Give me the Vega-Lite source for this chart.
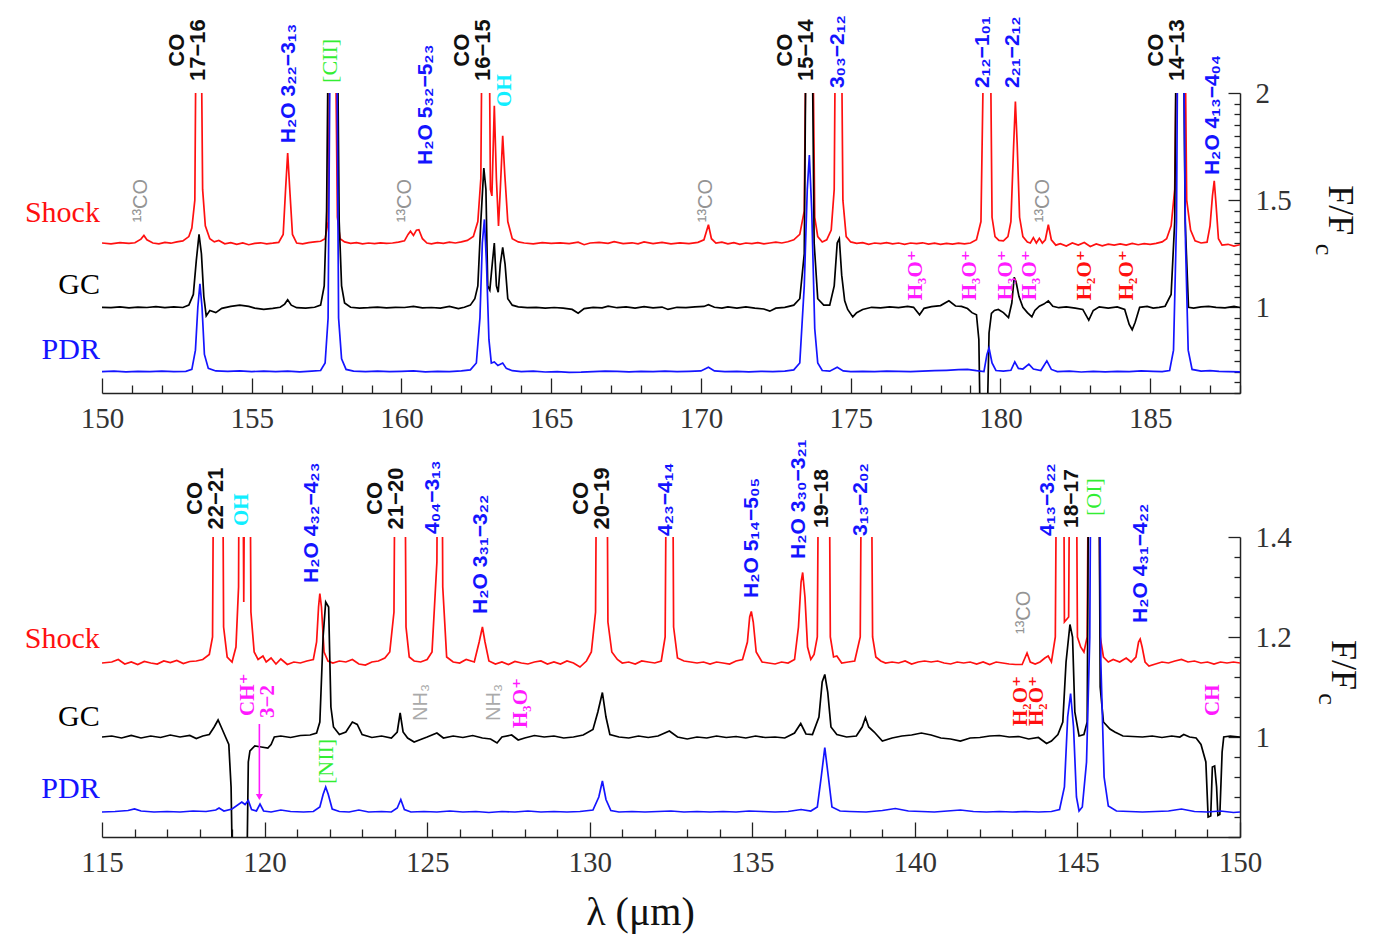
{
"$schema": "https://vega.github.io/schema/vega-lite/v6.json",
"background": "white",
"padding": {"left": 24, "top": 15, "right": 10, "bottom": 10},
"spacing": 144,
"bounds": "flush",
"config": {"view": {"stroke": null}},
"datasets": {
"ts": [
{"k":"Shock","x":150.0,"y":1.300},{"k":"Shock","x":150.3,"y":1.296},{"k":"Shock","x":150.6,"y":1.302},{"k":"Shock","x":150.9,"y":1.298},{"k":"Shock","x":151.1,"y":1.301},{"k":"Shock","x":151.3,"y":1.318},{"k":"Shock","x":151.4,"y":1.335},{"k":"Shock","x":151.5,"y":1.315},{"k":"Shock","x":151.7,"y":1.300},{"k":"Shock","x":151.9,"y":1.296},{"k":"Shock","x":152.1,"y":1.303},{"k":"Shock","x":152.3,"y":1.299},{"k":"Shock","x":152.5,"y":1.305},{"k":"Shock","x":152.7,"y":1.310},{"k":"Shock","x":152.9,"y":1.330},{"k":"Shock","x":153.0,"y":1.370},{"k":"Shock","x":153.1,"y":1.500},{"k":"Shock","x":153.15,"y":2.5},{"k":"Shock","x":153.3,"y":2.5},{"k":"Shock","x":153.36,"y":1.55},{"k":"Shock","x":153.45,"y":1.38},{"k":"Shock","x":153.6,"y":1.32},{"k":"Shock","x":153.75,"y":1.305},{"k":"Shock","x":153.9,"y":1.312},{"k":"Shock","x":154.1,"y":1.296},{"k":"Shock","x":154.3,"y":1.302},{"k":"Shock","x":154.5,"y":1.294},{"k":"Shock","x":154.7,"y":1.300},{"k":"Shock","x":154.9,"y":1.292},{"k":"Shock","x":155.1,"y":1.298},{"k":"Shock","x":155.3,"y":1.301},{"k":"Shock","x":155.5,"y":1.296},{"k":"Shock","x":155.7,"y":1.299},{"k":"Shock","x":155.9,"y":1.303},{"k":"Shock","x":156.05,"y":1.340},{"k":"Shock","x":156.13,"y":1.55},{"k":"Shock","x":156.2,"y":1.72},{"k":"Shock","x":156.27,"y":1.55},{"k":"Shock","x":156.36,"y":1.34},{"k":"Shock","x":156.5,"y":1.300},{"k":"Shock","x":156.7,"y":1.296},{"k":"Shock","x":156.9,"y":1.302},{"k":"Shock","x":157.1,"y":1.305},{"k":"Shock","x":157.3,"y":1.308},{"k":"Shock","x":157.45,"y":1.320},{"k":"Shock","x":157.55,"y":1.40},{"k":"Shock","x":157.62,"y":2.5},{"k":"Shock","x":157.78,"y":2.5},{"k":"Shock","x":157.86,"y":1.42},{"k":"Shock","x":157.95,"y":1.32},{"k":"Shock","x":158.1,"y":1.305},{"k":"Shock","x":158.3,"y":1.298},{"k":"Shock","x":158.5,"y":1.302},{"k":"Shock","x":158.7,"y":1.296},{"k":"Shock","x":158.9,"y":1.300},{"k":"Shock","x":159.1,"y":1.297},{"k":"Shock","x":159.3,"y":1.301},{"k":"Shock","x":159.5,"y":1.298},{"k":"Shock","x":159.7,"y":1.300},{"k":"Shock","x":159.9,"y":1.304},{"k":"Shock","x":160.1,"y":1.310},{"k":"Shock","x":160.22,"y":1.340},{"k":"Shock","x":160.3,"y":1.355},{"k":"Shock","x":160.4,"y":1.335},{"k":"Shock","x":160.5,"y":1.360},{"k":"Shock","x":160.58,"y":1.362},{"k":"Shock","x":160.7,"y":1.320},{"k":"Shock","x":160.85,"y":1.300},{"k":"Shock","x":161.0,"y":1.296},{"k":"Shock","x":161.2,"y":1.302},{"k":"Shock","x":161.4,"y":1.298},{"k":"Shock","x":161.6,"y":1.304},{"k":"Shock","x":161.8,"y":1.300},{"k":"Shock","x":162.0,"y":1.305},{"k":"Shock","x":162.2,"y":1.312},{"k":"Shock","x":162.4,"y":1.330},{"k":"Shock","x":162.55,"y":1.40},{"k":"Shock","x":162.65,"y":1.60},{"k":"Shock","x":162.7,"y":2.5},{"k":"Shock","x":162.92,"y":2.5},{"k":"Shock","x":162.97,"y":1.55},{"k":"Shock","x":163.02,"y":1.52},{"k":"Shock","x":163.1,"y":1.94},{"k":"Shock","x":163.17,"y":1.60},{"k":"Shock","x":163.24,"y":1.38},{"k":"Shock","x":163.3,"y":1.55},{"k":"Shock","x":163.38,"y":1.80},{"k":"Shock","x":163.45,"y":1.62},{"k":"Shock","x":163.55,"y":1.40},{"k":"Shock","x":163.7,"y":1.32},{"k":"Shock","x":163.9,"y":1.305},{"k":"Shock","x":164.1,"y":1.300},{"k":"Shock","x":164.4,"y":1.296},{"k":"Shock","x":164.7,"y":1.302},{"k":"Shock","x":165.0,"y":1.298},{"k":"Shock","x":165.3,"y":1.301},{"k":"Shock","x":165.6,"y":1.297},{"k":"Shock","x":165.9,"y":1.304},{"k":"Shock","x":166.1,"y":1.292},{"k":"Shock","x":166.3,"y":1.300},{"k":"Shock","x":166.6,"y":1.303},{"k":"Shock","x":166.9,"y":1.298},{"k":"Shock","x":167.1,"y":1.306},{"k":"Shock","x":167.4,"y":1.297},{"k":"Shock","x":167.7,"y":1.301},{"k":"Shock","x":167.9,"y":1.296},{"k":"Shock","x":168.1,"y":1.305},{"k":"Shock","x":168.4,"y":1.297},{"k":"Shock","x":168.7,"y":1.303},{"k":"Shock","x":169.0,"y":1.296},{"k":"Shock","x":169.3,"y":1.301},{"k":"Shock","x":169.6,"y":1.297},{"k":"Shock","x":169.9,"y":1.303},{"k":"Shock","x":170.1,"y":1.315},{"k":"Shock","x":170.25,"y":1.385},{"k":"Shock","x":170.35,"y":1.320},{"k":"Shock","x":170.5,"y":1.300},{"k":"Shock","x":170.7,"y":1.304},{"k":"Shock","x":170.9,"y":1.296},{"k":"Shock","x":171.1,"y":1.302},{"k":"Shock","x":171.3,"y":1.294},{"k":"Shock","x":171.5,"y":1.300},{"k":"Shock","x":171.7,"y":1.297},{"k":"Shock","x":171.9,"y":1.302},{"k":"Shock","x":172.1,"y":1.296},{"k":"Shock","x":172.3,"y":1.300},{"k":"Shock","x":172.5,"y":1.304},{"k":"Shock","x":172.7,"y":1.300},{"k":"Shock","x":172.9,"y":1.306},{"k":"Shock","x":173.1,"y":1.315},{"k":"Shock","x":173.3,"y":1.34},{"k":"Shock","x":173.45,"y":1.45},{"k":"Shock","x":173.52,"y":2.5},{"k":"Shock","x":173.72,"y":2.5},{"k":"Shock","x":173.8,"y":1.42},{"k":"Shock","x":173.9,"y":1.33},{"k":"Shock","x":174.05,"y":1.305},{"k":"Shock","x":174.2,"y":1.315},{"k":"Shock","x":174.35,"y":1.36},{"k":"Shock","x":174.45,"y":1.55},{"k":"Shock","x":174.5,"y":2.5},{"k":"Shock","x":174.68,"y":2.5},{"k":"Shock","x":174.74,"y":1.50},{"k":"Shock","x":174.85,"y":1.33},{"k":"Shock","x":175.0,"y":1.305},{"k":"Shock","x":175.2,"y":1.298},{"k":"Shock","x":175.4,"y":1.302},{"k":"Shock","x":175.6,"y":1.294},{"k":"Shock","x":175.8,"y":1.300},{"k":"Shock","x":176.0,"y":1.297},{"k":"Shock","x":176.2,"y":1.302},{"k":"Shock","x":176.4,"y":1.296},{"k":"Shock","x":176.6,"y":1.300},{"k":"Shock","x":176.8,"y":1.294},{"k":"Shock","x":177.0,"y":1.300},{"k":"Shock","x":177.2,"y":1.297},{"k":"Shock","x":177.4,"y":1.301},{"k":"Shock","x":177.6,"y":1.295},{"k":"Shock","x":177.8,"y":1.299},{"k":"Shock","x":178.0,"y":1.294},{"k":"Shock","x":178.2,"y":1.298},{"k":"Shock","x":178.4,"y":1.295},{"k":"Shock","x":178.6,"y":1.299},{"k":"Shock","x":178.8,"y":1.296},{"k":"Shock","x":179.0,"y":1.300},{"k":"Shock","x":179.2,"y":1.315},{"k":"Shock","x":179.35,"y":1.40},{"k":"Shock","x":179.47,"y":2.5},{"k":"Shock","x":179.65,"y":2.5},{"k":"Shock","x":179.72,"y":1.42},{"k":"Shock","x":179.82,"y":1.33},{"k":"Shock","x":179.95,"y":1.312},{"k":"Shock","x":180.1,"y":1.310},{"k":"Shock","x":180.25,"y":1.33},{"k":"Shock","x":180.35,"y":1.40},{"k":"Shock","x":180.44,"y":1.75},{"k":"Shock","x":180.5,"y":1.96},{"k":"Shock","x":180.56,"y":1.76},{"k":"Shock","x":180.64,"y":1.42},{"k":"Shock","x":180.75,"y":1.33},{"k":"Shock","x":180.9,"y":1.305},{"k":"Shock","x":181.0,"y":1.300},{"k":"Shock","x":181.1,"y":1.325},{"k":"Shock","x":181.2,"y":1.300},{"k":"Shock","x":181.3,"y":1.322},{"k":"Shock","x":181.4,"y":1.300},{"k":"Shock","x":181.5,"y":1.315},{"k":"Shock","x":181.6,"y":1.385},{"k":"Shock","x":181.7,"y":1.315},{"k":"Shock","x":181.85,"y":1.290},{"k":"Shock","x":182.0,"y":1.297},{"k":"Shock","x":182.2,"y":1.286},{"k":"Shock","x":182.4,"y":1.300},{"k":"Shock","x":182.6,"y":1.290},{"k":"Shock","x":182.8,"y":1.302},{"k":"Shock","x":183.0,"y":1.284},{"k":"Shock","x":183.2,"y":1.296},{"k":"Shock","x":183.4,"y":1.287},{"k":"Shock","x":183.6,"y":1.295},{"k":"Shock","x":183.8,"y":1.290},{"k":"Shock","x":184.0,"y":1.296},{"k":"Shock","x":184.2,"y":1.290},{"k":"Shock","x":184.4,"y":1.298},{"k":"Shock","x":184.6,"y":1.292},{"k":"Shock","x":184.8,"y":1.297},{"k":"Shock","x":185.0,"y":1.294},{"k":"Shock","x":185.2,"y":1.298},{"k":"Shock","x":185.4,"y":1.305},{"k":"Shock","x":185.55,"y":1.32},{"k":"Shock","x":185.7,"y":1.38},{"k":"Shock","x":185.82,"y":1.55},{"k":"Shock","x":185.9,"y":2.5},{"k":"Shock","x":186.15,"y":2.5},{"k":"Shock","x":186.22,"y":1.50},{"k":"Shock","x":186.35,"y":1.36},{"k":"Shock","x":186.5,"y":1.31},{"k":"Shock","x":186.7,"y":1.300},{"k":"Shock","x":186.9,"y":1.304},{"k":"Shock","x":187.0,"y":1.38},{"k":"Shock","x":187.08,"y":1.52},{"k":"Shock","x":187.14,"y":1.59},{"k":"Shock","x":187.2,"y":1.48},{"k":"Shock","x":187.28,"y":1.32},{"k":"Shock","x":187.4,"y":1.290},{"k":"Shock","x":187.6,"y":1.294},{"k":"Shock","x":187.8,"y":1.286},{"k":"Shock","x":188.0,"y":1.292},
{"k":"GC","x":150.0,"y":1.000},{"k":"GC","x":150.3,"y":0.998},{"k":"GC","x":150.6,"y":1.002},{"k":"GC","x":150.9,"y":0.997},{"k":"GC","x":151.2,"y":1.001},{"k":"GC","x":151.5,"y":0.999},{"k":"GC","x":151.8,"y":1.003},{"k":"GC","x":152.1,"y":0.998},{"k":"GC","x":152.4,"y":1.002},{"k":"GC","x":152.7,"y":0.999},{"k":"GC","x":152.9,"y":1.010},{"k":"GC","x":153.05,"y":1.06},{"k":"GC","x":153.15,"y":1.22},{"k":"GC","x":153.24,"y":1.34},{"k":"GC","x":153.32,"y":1.25},{"k":"GC","x":153.4,"y":1.05},{"k":"GC","x":153.48,"y":0.96},{"k":"GC","x":153.6,"y":0.985},{"k":"GC","x":153.8,"y":0.975},{"k":"GC","x":154.0,"y":0.995},{"k":"GC","x":154.3,"y":1.004},{"k":"GC","x":154.6,"y":1.010},{"k":"GC","x":154.9,"y":1.004},{"k":"GC","x":155.1,"y":0.996},{"k":"GC","x":155.4,"y":0.990},{"k":"GC","x":155.7,"y":0.995},{"k":"GC","x":155.95,"y":1.000},{"k":"GC","x":156.1,"y":1.015},{"k":"GC","x":156.2,"y":1.035},{"k":"GC","x":156.32,"y":1.010},{"k":"GC","x":156.5,"y":0.998},{"k":"GC","x":156.8,"y":0.996},{"k":"GC","x":157.1,"y":1.000},{"k":"GC","x":157.3,"y":1.010},{"k":"GC","x":157.42,"y":1.10},{"k":"GC","x":157.5,"y":1.45},{"k":"GC","x":157.57,"y":2.5},{"k":"GC","x":157.85,"y":2.5},{"k":"GC","x":157.92,"y":1.40},{"k":"GC","x":158.0,"y":1.10},{"k":"GC","x":158.1,"y":1.02},{"k":"GC","x":158.3,"y":1.000},{"k":"GC","x":158.6,"y":0.996},{"k":"GC","x":158.9,"y":0.998},{"k":"GC","x":159.2,"y":1.001},{"k":"GC","x":159.5,"y":0.997},{"k":"GC","x":159.8,"y":1.000},{"k":"GC","x":160.1,"y":0.999},{"k":"GC","x":160.4,"y":1.004},{"k":"GC","x":160.7,"y":0.997},{"k":"GC","x":161.0,"y":0.999},{"k":"GC","x":161.3,"y":0.996},{"k":"GC","x":161.6,"y":1.004},{"k":"GC","x":161.9,"y":0.994},{"k":"GC","x":162.1,"y":1.000},{"k":"GC","x":162.3,"y":1.010},{"k":"GC","x":162.45,"y":1.04},{"k":"GC","x":162.55,"y":1.10},{"k":"GC","x":162.65,"y":1.40},{"k":"GC","x":162.75,"y":1.65},{"k":"GC","x":162.82,"y":1.55},{"k":"GC","x":162.88,"y":1.10},{"k":"GC","x":162.95,"y":1.08},{"k":"GC","x":163.03,"y":1.20},{"k":"GC","x":163.1,"y":1.30},{"k":"GC","x":163.17,"y":1.10},{"k":"GC","x":163.23,"y":1.07},{"k":"GC","x":163.3,"y":1.20},{"k":"GC","x":163.38,"y":1.28},{"k":"GC","x":163.46,"y":1.20},{"k":"GC","x":163.55,"y":1.04},{"k":"GC","x":163.7,"y":1.010},{"k":"GC","x":163.9,"y":1.002},{"k":"GC","x":164.2,"y":0.998},{"k":"GC","x":164.5,"y":1.000},{"k":"GC","x":164.8,"y":0.996},{"k":"GC","x":165.1,"y":0.999},{"k":"GC","x":165.4,"y":0.996},{"k":"GC","x":165.7,"y":0.990},{"k":"GC","x":165.9,"y":0.972},{"k":"GC","x":166.1,"y":0.994},{"k":"GC","x":166.4,"y":1.000},{"k":"GC","x":166.7,"y":0.997},{"k":"GC","x":166.9,"y":1.005},{"k":"GC","x":167.2,"y":0.998},{"k":"GC","x":167.5,"y":1.002},{"k":"GC","x":167.8,"y":0.996},{"k":"GC","x":168.1,"y":1.003},{"k":"GC","x":168.4,"y":0.997},{"k":"GC","x":168.7,"y":1.001},{"k":"GC","x":168.9,"y":0.990},{"k":"GC","x":169.2,"y":1.000},{"k":"GC","x":169.5,"y":0.998},{"k":"GC","x":169.8,"y":1.002},{"k":"GC","x":170.1,"y":1.004},{"k":"GC","x":170.25,"y":1.012},{"k":"GC","x":170.45,"y":1.000},{"k":"GC","x":170.7,"y":0.996},{"k":"GC","x":170.9,"y":1.002},{"k":"GC","x":171.2,"y":0.996},{"k":"GC","x":171.5,"y":1.002},{"k":"GC","x":171.8,"y":0.996},{"k":"GC","x":172.1,"y":0.992},{"k":"GC","x":172.3,"y":0.982},{"k":"GC","x":172.5,"y":0.996},{"k":"GC","x":172.8,"y":1.000},{"k":"GC","x":173.1,"y":1.010},{"k":"GC","x":173.3,"y":1.04},{"k":"GC","x":173.45,"y":1.25},{"k":"GC","x":173.52,"y":2.5},{"k":"GC","x":173.7,"y":2.5},{"k":"GC","x":173.78,"y":1.30},{"k":"GC","x":173.9,"y":1.04},{"k":"GC","x":174.1,"y":1.010},{"k":"GC","x":174.3,"y":1.010},{"k":"GC","x":174.45,"y":1.10},{"k":"GC","x":174.55,"y":1.30},{"k":"GC","x":174.62,"y":1.32},{"k":"GC","x":174.7,"y":1.15},{"k":"GC","x":174.8,"y":1.03},{"k":"GC","x":174.9,"y":0.99},{"k":"GC","x":175.07,"y":0.955},{"k":"GC","x":175.2,"y":0.975},{"k":"GC","x":175.4,"y":0.990},{"k":"GC","x":175.7,"y":1.000},{"k":"GC","x":176.0,"y":0.997},{"k":"GC","x":176.3,"y":1.002},{"k":"GC","x":176.6,"y":0.998},{"k":"GC","x":176.9,"y":1.004},{"k":"GC","x":177.1,"y":1.000},{"k":"GC","x":177.3,"y":0.965},{"k":"GC","x":177.45,"y":0.995},{"k":"GC","x":177.7,"y":1.003},{"k":"GC","x":178.0,"y":1.008},{"k":"GC","x":178.28,"y":1.030},{"k":"GC","x":178.5,"y":1.006},{"k":"GC","x":178.7,"y":1.004},{"k":"GC","x":178.9,"y":0.994},{"k":"GC","x":179.05,"y":0.975},{"k":"GC","x":179.2,"y":0.965},{"k":"GC","x":179.28,"y":0.85},{"k":"GC","x":179.33,"y":0.4},{"k":"GC","x":179.55,"y":0.4},{"k":"GC","x":179.62,"y":0.88},{"k":"GC","x":179.7,"y":0.972},{"k":"GC","x":179.8,"y":0.985},{"k":"GC","x":179.93,"y":0.99},{"k":"GC","x":180.1,"y":0.975},{"k":"GC","x":180.27,"y":0.952},{"k":"GC","x":180.38,"y":1.02},{"k":"GC","x":180.46,"y":1.14},{"k":"GC","x":180.52,"y":1.12},{"k":"GC","x":180.62,"y":1.05},{"k":"GC","x":180.75,"y":1.00},{"k":"GC","x":180.9,"y":0.975},{"k":"GC","x":181.05,"y":0.955},{"k":"GC","x":181.15,"y":0.985},{"k":"GC","x":181.3,"y":1.005},{"k":"GC","x":181.45,"y":1.015},{"k":"GC","x":181.6,"y":1.030},{"k":"GC","x":181.75,"y":1.005},{"k":"GC","x":181.95,"y":0.998},{"k":"GC","x":182.2,"y":1.002},{"k":"GC","x":182.5,"y":0.996},{"k":"GC","x":182.75,"y":0.990},{"k":"GC","x":182.95,"y":0.940},{"k":"GC","x":183.1,"y":0.985},{"k":"GC","x":183.3,"y":1.002},{"k":"GC","x":183.6,"y":0.996},{"k":"GC","x":183.9,"y":1.002},{"k":"GC","x":184.15,"y":0.990},{"k":"GC","x":184.3,"y":0.920},{"k":"GC","x":184.4,"y":0.895},{"k":"GC","x":184.5,"y":0.930},{"k":"GC","x":184.65,"y":1.00},{"k":"GC","x":184.9,"y":1.004},{"k":"GC","x":185.1,"y":0.996},{"k":"GC","x":185.3,"y":1.000},{"k":"GC","x":185.5,"y":1.005},{"k":"GC","x":185.7,"y":1.06},{"k":"GC","x":185.82,"y":1.40},{"k":"GC","x":185.88,"y":2.5},{"k":"GC","x":186.1,"y":2.5},{"k":"GC","x":186.17,"y":1.40},{"k":"GC","x":186.28,"y":1.00},{"k":"GC","x":186.45,"y":0.996},{"k":"GC","x":186.7,"y":1.002},{"k":"GC","x":186.95,"y":1.004},{"k":"GC","x":187.2,"y":1.000},{"k":"GC","x":187.5,"y":0.997},{"k":"GC","x":187.8,"y":1.004},{"k":"GC","x":188.0,"y":0.999},
{"k":"PDR","x":150.0,"y":0.700},{"k":"PDR","x":150.4,"y":0.702},{"k":"PDR","x":150.8,"y":0.699},{"k":"PDR","x":151.2,"y":0.701},{"k":"PDR","x":151.6,"y":0.700},{"k":"PDR","x":152.0,"y":0.702},{"k":"PDR","x":152.4,"y":0.700},{"k":"PDR","x":152.8,"y":0.701},{"k":"PDR","x":153.0,"y":0.710},{"k":"PDR","x":153.12,"y":0.80},{"k":"PDR","x":153.2,"y":1.00},{"k":"PDR","x":153.27,"y":1.11},{"k":"PDR","x":153.34,"y":1.00},{"k":"PDR","x":153.42,"y":0.78},{"k":"PDR","x":153.55,"y":0.715},{"k":"PDR","x":153.8,"y":0.703},{"k":"PDR","x":154.2,"y":0.701},{"k":"PDR","x":154.6,"y":0.703},{"k":"PDR","x":155.0,"y":0.700},{"k":"PDR","x":155.4,"y":0.702},{"k":"PDR","x":155.8,"y":0.700},{"k":"PDR","x":156.2,"y":0.702},{"k":"PDR","x":156.6,"y":0.699},{"k":"PDR","x":157.0,"y":0.702},{"k":"PDR","x":157.3,"y":0.705},{"k":"PDR","x":157.45,"y":0.74},{"k":"PDR","x":157.55,"y":0.95},{"k":"PDR","x":157.63,"y":2.5},{"k":"PDR","x":157.83,"y":2.5},{"k":"PDR","x":157.9,"y":0.95},{"k":"PDR","x":158.0,"y":0.76},{"k":"PDR","x":158.15,"y":0.71},{"k":"PDR","x":158.4,"y":0.702},{"k":"PDR","x":158.8,"y":0.700},{"k":"PDR","x":159.2,"y":0.702},{"k":"PDR","x":159.6,"y":0.700},{"k":"PDR","x":160.0,"y":0.701},{"k":"PDR","x":160.4,"y":0.703},{"k":"PDR","x":160.8,"y":0.699},{"k":"PDR","x":161.2,"y":0.701},{"k":"PDR","x":161.6,"y":0.700},{"k":"PDR","x":162.0,"y":0.703},{"k":"PDR","x":162.3,"y":0.708},{"k":"PDR","x":162.5,"y":0.74},{"k":"PDR","x":162.62,"y":0.95},{"k":"PDR","x":162.7,"y":1.30},{"k":"PDR","x":162.77,"y":1.41},{"k":"PDR","x":162.84,"y":1.20},{"k":"PDR","x":162.92,"y":0.85},{"k":"PDR","x":163.0,"y":0.74},{"k":"PDR","x":163.1,"y":0.745},{"k":"PDR","x":163.22,"y":0.728},{"k":"PDR","x":163.38,"y":0.74},{"k":"PDR","x":163.5,"y":0.715},{"k":"PDR","x":163.7,"y":0.704},{"k":"PDR","x":164.0,"y":0.700},{"k":"PDR","x":164.4,"y":0.702},{"k":"PDR","x":164.8,"y":0.698},{"k":"PDR","x":165.2,"y":0.700},{"k":"PDR","x":165.6,"y":0.696},{"k":"PDR","x":166.0,"y":0.697},{"k":"PDR","x":166.4,"y":0.700},{"k":"PDR","x":166.8,"y":0.702},{"k":"PDR","x":167.2,"y":0.701},{"k":"PDR","x":167.6,"y":0.699},{"k":"PDR","x":168.0,"y":0.701},{"k":"PDR","x":168.4,"y":0.700},{"k":"PDR","x":168.8,"y":0.702},{"k":"PDR","x":169.2,"y":0.700},{"k":"PDR","x":169.6,"y":0.701},{"k":"PDR","x":170.0,"y":0.703},{"k":"PDR","x":170.25,"y":0.72},{"k":"PDR","x":170.45,"y":0.703},{"k":"PDR","x":170.8,"y":0.700},{"k":"PDR","x":171.2,"y":0.701},{"k":"PDR","x":171.6,"y":0.699},{"k":"PDR","x":172.0,"y":0.701},{"k":"PDR","x":172.4,"y":0.700},{"k":"PDR","x":172.8,"y":0.702},{"k":"PDR","x":173.1,"y":0.708},{"k":"PDR","x":173.3,"y":0.74},{"k":"PDR","x":173.45,"y":1.10},{"k":"PDR","x":173.55,"y":1.55},{"k":"PDR","x":173.62,"y":1.71},{"k":"PDR","x":173.7,"y":1.45},{"k":"PDR","x":173.8,"y":0.90},{"k":"PDR","x":173.9,"y":0.74},{"k":"PDR","x":174.05,"y":0.705},{"k":"PDR","x":174.3,"y":0.702},{"k":"PDR","x":174.55,"y":0.72},{"k":"PDR","x":174.75,"y":0.703},{"k":"PDR","x":175.0,"y":0.700},{"k":"PDR","x":175.4,"y":0.701},{"k":"PDR","x":175.8,"y":0.700},{"k":"PDR","x":176.2,"y":0.702},{"k":"PDR","x":176.6,"y":0.701},{"k":"PDR","x":177.0,"y":0.700},{"k":"PDR","x":177.4,"y":0.702},{"k":"PDR","x":177.8,"y":0.704},{"k":"PDR","x":178.2,"y":0.706},{"k":"PDR","x":178.6,"y":0.709},{"k":"PDR","x":178.9,"y":0.710},{"k":"PDR","x":179.2,"y":0.704},{"k":"PDR","x":179.45,"y":0.70},{"k":"PDR","x":179.55,"y":0.78},{"k":"PDR","x":179.62,"y":0.81},{"k":"PDR","x":179.72,"y":0.74},{"k":"PDR","x":179.85,"y":0.705},{"k":"PDR","x":180.1,"y":0.702},{"k":"PDR","x":180.35,"y":0.706},{"k":"PDR","x":180.48,"y":0.745},{"k":"PDR","x":180.6,"y":0.715},{"k":"PDR","x":180.75,"y":0.712},{"k":"PDR","x":180.95,"y":0.735},{"k":"PDR","x":181.1,"y":0.712},{"k":"PDR","x":181.35,"y":0.705},{"k":"PDR","x":181.55,"y":0.75},{"k":"PDR","x":181.7,"y":0.71},{"k":"PDR","x":181.9,"y":0.700},{"k":"PDR","x":182.3,"y":0.702},{"k":"PDR","x":182.7,"y":0.698},{"k":"PDR","x":183.1,"y":0.701},{"k":"PDR","x":183.5,"y":0.699},{"k":"PDR","x":183.9,"y":0.701},{"k":"PDR","x":184.3,"y":0.700},{"k":"PDR","x":184.7,"y":0.703},{"k":"PDR","x":185.1,"y":0.701},{"k":"PDR","x":185.4,"y":0.700},{"k":"PDR","x":185.65,"y":0.705},{"k":"PDR","x":185.78,"y":0.80},{"k":"PDR","x":185.88,"y":1.40},{"k":"PDR","x":185.93,"y":2.5},{"k":"PDR","x":186.1,"y":2.5},{"k":"PDR","x":186.18,"y":1.30},{"k":"PDR","x":186.27,"y":0.80},{"k":"PDR","x":186.4,"y":0.71},{"k":"PDR","x":186.7,"y":0.702},{"k":"PDR","x":187.0,"y":0.704},{"k":"PDR","x":187.3,"y":0.701},{"k":"PDR","x":187.6,"y":0.700},{"k":"PDR","x":188.0,"y":0.699}
],
"tl": [
{"x":151.30,"y":1.397,"t":"¹³CO","k":"13CO"},
{"x":160.13,"y":1.397,"t":"¹³CO","k":"13CO"},
{"x":170.17,"y":1.397,"t":"¹³CO","k":"13CO"},
{"x":181.43,"y":1.397,"t":"¹³CO","k":"13CO"},
{"x":152.50,"y":2.20,"t":"CO\n17−16","k":"CO"},
{"x":162.02,"y":2.20,"t":"CO\n16−15","k":"CO"},
{"x":172.82,"y":2.20,"t":"CO\n15−14","k":"CO"},
{"x":185.18,"y":2.20,"t":"CO\n14−13","k":"CO"},
{"x":156.23,"y":1.766,"t":"H₂O 3₂₂−3₁₃","k":"H2O"},
{"x":160.83,"y":1.664,"t":"H₂O 5₃₂−5₂₃","k":"H2O"},
{"x":174.57,"y":2.023,"t":"3₀₃−2₁₂","k":"H2O"},
{"x":179.43,"y":2.023,"t":"2₁₂−1₀₁","k":"H2O"},
{"x":180.43,"y":2.023,"t":"2₂₁−2₁₂","k":"H2O"},
{"x":187.10,"y":1.617,"t":"H₂O 4₁₃−4₀₄","k":"H2O"},
{"x":157.63,"y":2.047,"t":"[CII]","k":"CII"},
{"x":163.47,"y":1.935,"t":"OH","k":"OH"},
{"x":177.17,"y":1.033,"t":"H₃O⁺","k":"H3O+"},
{"x":178.97,"y":1.033,"t":"H₃O⁺","k":"H3O+"},
{"x":180.17,"y":1.033,"t":"H₃O⁺","k":"H3O+"},
{"x":181.00,"y":1.033,"t":"H₃O⁺","k":"H3O+"},
{"x":182.83,"y":1.033,"t":"H₂O⁺","k":"H2O+"},
{"x":184.23,"y":1.033,"t":"H₂O⁺","k":"H2O+"},
{"x":149.93,"y":1.44,"t":"Shock","k":"Shock"},
{"x":149.93,"y":1.103,"t":"GC","k":"GC"},
{"x":149.93,"y":0.80,"t":"PDR","k":"PDR"},
{"x":191.34,"y":1.453,"t":"F/F","k":"F"},
{"x":190.82,"y":1.27,"t":"c","k":"Fc"}
],
"bs": [
{"k":"Shock","x":115.0,"y":1.148},{"k":"Shock","x":115.3,"y":1.150},{"k":"Shock","x":115.5,"y":1.155},{"k":"Shock","x":115.7,"y":1.146},{"k":"Shock","x":115.9,"y":1.150},{"k":"Shock","x":116.1,"y":1.145},{"k":"Shock","x":116.3,"y":1.151},{"k":"Shock","x":116.5,"y":1.148},{"k":"Shock","x":116.7,"y":1.146},{"k":"Shock","x":116.9,"y":1.152},{"k":"Shock","x":117.1,"y":1.149},{"k":"Shock","x":117.3,"y":1.153},{"k":"Shock","x":117.5,"y":1.147},{"k":"Shock","x":117.7,"y":1.151},{"k":"Shock","x":117.9,"y":1.152},{"k":"Shock","x":118.1,"y":1.155},{"k":"Shock","x":118.3,"y":1.165},{"k":"Shock","x":118.4,"y":1.20},{"k":"Shock","x":118.47,"y":2.0},{"k":"Shock","x":118.68,"y":2.0},{"k":"Shock","x":118.74,"y":1.22},{"k":"Shock","x":118.85,"y":1.16},{"k":"Shock","x":119.0,"y":1.15},{"k":"Shock","x":119.12,"y":1.18},{"k":"Shock","x":119.2,"y":1.30},{"k":"Shock","x":119.24,"y":2.0},{"k":"Shock","x":119.3,"y":2.0},{"k":"Shock","x":119.36,"y":1.27},{"k":"Shock","x":119.42,"y":2.0},{"k":"Shock","x":119.52,"y":2.0},{"k":"Shock","x":119.58,"y":1.25},{"k":"Shock","x":119.68,"y":1.17},{"k":"Shock","x":119.8,"y":1.155},{"k":"Shock","x":119.95,"y":1.162},{"k":"Shock","x":120.05,"y":1.150},{"k":"Shock","x":120.2,"y":1.158},{"k":"Shock","x":120.35,"y":1.146},{"k":"Shock","x":120.5,"y":1.156},{"k":"Shock","x":120.7,"y":1.145},{"k":"Shock","x":120.9,"y":1.150},{"k":"Shock","x":121.1,"y":1.148},{"k":"Shock","x":121.3,"y":1.152},{"k":"Shock","x":121.5,"y":1.155},{"k":"Shock","x":121.6,"y":1.19},{"k":"Shock","x":121.66,"y":1.26},{"k":"Shock","x":121.7,"y":1.287},{"k":"Shock","x":121.75,"y":1.26},{"k":"Shock","x":121.83,"y":1.17},{"k":"Shock","x":121.95,"y":1.152},{"k":"Shock","x":122.1,"y":1.148},{"k":"Shock","x":122.3,"y":1.152},{"k":"Shock","x":122.5,"y":1.150},{"k":"Shock","x":122.7,"y":1.155},{"k":"Shock","x":122.9,"y":1.146},{"k":"Shock","x":123.1,"y":1.144},{"k":"Shock","x":123.3,"y":1.150},{"k":"Shock","x":123.5,"y":1.152},{"k":"Shock","x":123.7,"y":1.158},{"k":"Shock","x":123.85,"y":1.17},{"k":"Shock","x":123.98,"y":1.25},{"k":"Shock","x":124.05,"y":2.0},{"k":"Shock","x":124.28,"y":2.0},{"k":"Shock","x":124.35,"y":1.22},{"k":"Shock","x":124.45,"y":1.16},{"k":"Shock","x":124.6,"y":1.152},{"k":"Shock","x":124.8,"y":1.150},{"k":"Shock","x":125.0,"y":1.155},{"k":"Shock","x":125.15,"y":1.17},{"k":"Shock","x":125.3,"y":1.35},{"k":"Shock","x":125.35,"y":2.0},{"k":"Shock","x":125.43,"y":2.0},{"k":"Shock","x":125.48,"y":1.30},{"k":"Shock","x":125.6,"y":1.16},{"k":"Shock","x":125.8,"y":1.150},{"k":"Shock","x":126.0,"y":1.148},{"k":"Shock","x":126.2,"y":1.155},{"k":"Shock","x":126.45,"y":1.150},{"k":"Shock","x":126.6,"y":1.19},{"k":"Shock","x":126.7,"y":1.22},{"k":"Shock","x":126.78,"y":1.19},{"k":"Shock","x":126.9,"y":1.152},{"k":"Shock","x":127.1,"y":1.146},{"k":"Shock","x":127.3,"y":1.150},{"k":"Shock","x":127.5,"y":1.145},{"k":"Shock","x":127.7,"y":1.151},{"k":"Shock","x":127.9,"y":1.148},{"k":"Shock","x":128.1,"y":1.146},{"k":"Shock","x":128.3,"y":1.150},{"k":"Shock","x":128.5,"y":1.152},{"k":"Shock","x":128.7,"y":1.146},{"k":"Shock","x":128.9,"y":1.150},{"k":"Shock","x":129.1,"y":1.146},{"k":"Shock","x":129.3,"y":1.152},{"k":"Shock","x":129.5,"y":1.148},{"k":"Shock","x":129.7,"y":1.140},{"k":"Shock","x":129.9,"y":1.152},{"k":"Shock","x":130.05,"y":1.17},{"k":"Shock","x":130.18,"y":1.25},{"k":"Shock","x":130.25,"y":2.0},{"k":"Shock","x":130.5,"y":2.0},{"k":"Shock","x":130.56,"y":1.23},{"k":"Shock","x":130.68,"y":1.17},{"k":"Shock","x":130.85,"y":1.155},{"k":"Shock","x":131.0,"y":1.148},{"k":"Shock","x":131.2,"y":1.150},{"k":"Shock","x":131.4,"y":1.146},{"k":"Shock","x":131.6,"y":1.152},{"k":"Shock","x":131.8,"y":1.150},{"k":"Shock","x":132.0,"y":1.148},{"k":"Shock","x":132.2,"y":1.152},{"k":"Shock","x":132.32,"y":1.20},{"k":"Shock","x":132.4,"y":2.0},{"k":"Shock","x":132.52,"y":2.0},{"k":"Shock","x":132.58,"y":1.22},{"k":"Shock","x":132.7,"y":1.158},{"k":"Shock","x":132.9,"y":1.152},{"k":"Shock","x":133.1,"y":1.150},{"k":"Shock","x":133.3,"y":1.148},{"k":"Shock","x":133.5,"y":1.150},{"k":"Shock","x":133.7,"y":1.146},{"k":"Shock","x":133.9,"y":1.150},{"k":"Shock","x":134.1,"y":1.148},{"k":"Shock","x":134.3,"y":1.146},{"k":"Shock","x":134.5,"y":1.152},{"k":"Shock","x":134.7,"y":1.155},{"k":"Shock","x":134.85,"y":1.19},{"k":"Shock","x":134.92,"y":1.24},{"k":"Shock","x":134.97,"y":1.251},{"k":"Shock","x":135.03,"y":1.23},{"k":"Shock","x":135.12,"y":1.17},{"k":"Shock","x":135.3,"y":1.150},{"k":"Shock","x":135.5,"y":1.148},{"k":"Shock","x":135.7,"y":1.146},{"k":"Shock","x":135.9,"y":1.150},{"k":"Shock","x":136.1,"y":1.148},{"k":"Shock","x":136.3,"y":1.155},{"k":"Shock","x":136.42,"y":1.22},{"k":"Shock","x":136.5,"y":1.31},{"k":"Shock","x":136.55,"y":1.329},{"k":"Shock","x":136.62,"y":1.28},{"k":"Shock","x":136.7,"y":1.18},{"k":"Shock","x":136.8,"y":1.155},{"k":"Shock","x":136.9,"y":1.165},{"k":"Shock","x":137.0,"y":1.20},{"k":"Shock","x":137.08,"y":2.0},{"k":"Shock","x":137.33,"y":2.0},{"k":"Shock","x":137.4,"y":1.20},{"k":"Shock","x":137.5,"y":1.16},{"k":"Shock","x":137.6,"y":1.162},{"k":"Shock","x":137.75,"y":1.148},{"k":"Shock","x":137.95,"y":1.150},{"k":"Shock","x":138.15,"y":1.152},{"k":"Shock","x":138.32,"y":1.20},{"k":"Shock","x":138.4,"y":2.0},{"k":"Shock","x":138.62,"y":2.0},{"k":"Shock","x":138.7,"y":1.20},{"k":"Shock","x":138.8,"y":1.16},{"k":"Shock","x":138.95,"y":1.152},{"k":"Shock","x":139.1,"y":1.148},{"k":"Shock","x":139.3,"y":1.150},{"k":"Shock","x":139.5,"y":1.148},{"k":"Shock","x":139.7,"y":1.152},{"k":"Shock","x":139.9,"y":1.146},{"k":"Shock","x":140.1,"y":1.150},{"k":"Shock","x":140.3,"y":1.152},{"k":"Shock","x":140.5,"y":1.150},{"k":"Shock","x":140.7,"y":1.152},{"k":"Shock","x":140.9,"y":1.148},{"k":"Shock","x":141.1,"y":1.146},{"k":"Shock","x":141.3,"y":1.150},{"k":"Shock","x":141.5,"y":1.148},{"k":"Shock","x":141.7,"y":1.150},{"k":"Shock","x":141.9,"y":1.146},{"k":"Shock","x":142.1,"y":1.150},{"k":"Shock","x":142.3,"y":1.145},{"k":"Shock","x":142.5,"y":1.150},{"k":"Shock","x":142.7,"y":1.148},{"k":"Shock","x":142.9,"y":1.146},{"k":"Shock","x":143.1,"y":1.145},{"k":"Shock","x":143.3,"y":1.145},{"k":"Shock","x":143.45,"y":1.168},{"k":"Shock","x":143.55,"y":1.150},{"k":"Shock","x":143.7,"y":1.146},{"k":"Shock","x":143.85,"y":1.150},{"k":"Shock","x":144.0,"y":1.158},{"k":"Shock","x":144.1,"y":1.162},{"k":"Shock","x":144.2,"y":1.150},{"k":"Shock","x":144.32,"y":1.20},{"k":"Shock","x":144.4,"y":2.0},{"k":"Shock","x":144.55,"y":2.0},{"k":"Shock","x":144.6,"y":1.23},{"k":"Shock","x":144.73,"y":1.24},{"k":"Shock","x":144.8,"y":2.0},{"k":"Shock","x":144.93,"y":2.0},{"k":"Shock","x":145.0,"y":1.20},{"k":"Shock","x":145.1,"y":1.18},{"k":"Shock","x":145.2,"y":1.17},{"k":"Shock","x":145.3,"y":1.20},{"k":"Shock","x":145.38,"y":2.0},{"k":"Shock","x":145.62,"y":2.0},{"k":"Shock","x":145.7,"y":1.20},{"k":"Shock","x":145.8,"y":1.16},{"k":"Shock","x":145.95,"y":1.150},{"k":"Shock","x":146.1,"y":1.155},{"k":"Shock","x":146.3,"y":1.150},{"k":"Shock","x":146.5,"y":1.158},{"k":"Shock","x":146.65,"y":1.150},{"k":"Shock","x":146.8,"y":1.16},{"k":"Shock","x":146.88,"y":1.19},{"k":"Shock","x":146.93,"y":1.196},{"k":"Shock","x":146.99,"y":1.18},{"k":"Shock","x":147.08,"y":1.150},{"k":"Shock","x":147.2,"y":1.142},{"k":"Shock","x":147.4,"y":1.146},{"k":"Shock","x":147.6,"y":1.150},{"k":"Shock","x":147.8,"y":1.148},{"k":"Shock","x":148.0,"y":1.152},{"k":"Shock","x":148.2,"y":1.155},{"k":"Shock","x":148.4,"y":1.150},{"k":"Shock","x":148.6,"y":1.152},{"k":"Shock","x":148.8,"y":1.148},{"k":"Shock","x":149.0,"y":1.150},{"k":"Shock","x":149.2,"y":1.146},{"k":"Shock","x":149.4,"y":1.150},{"k":"Shock","x":149.6,"y":1.148},{"k":"Shock","x":149.8,"y":1.150},{"k":"Shock","x":150.0,"y":1.148},
{"k":"GC","x":115.0,"y":1.000},{"k":"GC","x":115.3,"y":1.002},{"k":"GC","x":115.6,"y":0.998},{"k":"GC","x":115.9,"y":1.003},{"k":"GC","x":116.2,"y":0.998},{"k":"GC","x":116.5,"y":1.002},{"k":"GC","x":116.8,"y":0.999},{"k":"GC","x":117.1,"y":1.004},{"k":"GC","x":117.4,"y":1.000},{"k":"GC","x":117.7,"y":1.003},{"k":"GC","x":117.9,"y":0.997},{"k":"GC","x":118.1,"y":1.002},{"k":"GC","x":118.3,"y":1.005},{"k":"GC","x":118.45,"y":1.020},{"k":"GC","x":118.57,"y":1.034},{"k":"GC","x":118.68,"y":1.018},{"k":"GC","x":118.8,"y":1.000},{"k":"GC","x":118.9,"y":0.985},{"k":"GC","x":118.97,"y":0.90},{"k":"GC","x":119.02,"y":0.70},{"k":"GC","x":119.45,"y":0.70},{"k":"GC","x":119.5,"y":0.95},{"k":"GC","x":119.55,"y":0.972},{"k":"GC","x":119.7,"y":0.982},{"k":"GC","x":119.9,"y":0.980},{"k":"GC","x":120.1,"y":0.978},{"k":"GC","x":120.2,"y":0.985},{"k":"GC","x":120.3,"y":1.000},{"k":"GC","x":120.5,"y":1.002},{"k":"GC","x":120.8,"y":0.999},{"k":"GC","x":121.1,"y":1.003},{"k":"GC","x":121.4,"y":1.004},{"k":"GC","x":121.6,"y":1.008},{"k":"GC","x":121.7,"y":1.03},{"k":"GC","x":121.8,"y":1.20},{"k":"GC","x":121.88,"y":1.27},{"k":"GC","x":121.97,"y":1.26},{"k":"GC","x":122.04,"y":1.06},{"k":"GC","x":122.12,"y":1.02},{"k":"GC","x":122.3,"y":1.005},{"k":"GC","x":122.5,"y":1.010},{"k":"GC","x":122.7,"y":1.03},{"k":"GC","x":122.85,"y":1.025},{"k":"GC","x":123.0,"y":1.005},{"k":"GC","x":123.3,"y":0.999},{"k":"GC","x":123.6,"y":1.002},{"k":"GC","x":123.9,"y":0.998},{"k":"GC","x":124.08,"y":1.010},{"k":"GC","x":124.17,"y":1.048},{"k":"GC","x":124.26,"y":1.010},{"k":"GC","x":124.4,"y":0.998},{"k":"GC","x":124.6,"y":0.990},{"k":"GC","x":124.8,"y":0.995},{"k":"GC","x":125.0,"y":1.000},{"k":"GC","x":125.3,"y":1.008},{"k":"GC","x":125.5,"y":0.998},{"k":"GC","x":125.8,"y":1.002},{"k":"GC","x":126.1,"y":0.999},{"k":"GC","x":126.4,"y":1.003},{"k":"GC","x":126.7,"y":0.998},{"k":"GC","x":126.95,"y":0.996},{"k":"GC","x":127.15,"y":0.988},{"k":"GC","x":127.3,"y":1.000},{"k":"GC","x":127.6,"y":1.004},{"k":"GC","x":127.8,"y":0.994},{"k":"GC","x":128.0,"y":0.998},{"k":"GC","x":128.3,"y":1.003},{"k":"GC","x":128.6,"y":1.000},{"k":"GC","x":128.9,"y":1.002},{"k":"GC","x":129.2,"y":0.998},{"k":"GC","x":129.5,"y":1.000},{"k":"GC","x":129.8,"y":1.004},{"k":"GC","x":130.1,"y":1.015},{"k":"GC","x":130.25,"y":1.05},{"k":"GC","x":130.39,"y":1.089},{"k":"GC","x":130.5,"y":1.04},{"k":"GC","x":130.62,"y":1.005},{"k":"GC","x":130.9,"y":1.000},{"k":"GC","x":131.2,"y":0.998},{"k":"GC","x":131.5,"y":1.002},{"k":"GC","x":131.8,"y":0.999},{"k":"GC","x":132.1,"y":1.002},{"k":"GC","x":132.45,"y":1.012},{"k":"GC","x":132.7,"y":1.000},{"k":"GC","x":133.0,"y":0.996},{"k":"GC","x":133.3,"y":1.000},{"k":"GC","x":133.6,"y":0.998},{"k":"GC","x":133.9,"y":1.002},{"k":"GC","x":134.2,"y":0.999},{"k":"GC","x":134.5,"y":1.001},{"k":"GC","x":134.8,"y":0.998},{"k":"GC","x":135.1,"y":1.002},{"k":"GC","x":135.4,"y":0.999},{"k":"GC","x":135.7,"y":1.000},{"k":"GC","x":136.0,"y":0.998},{"k":"GC","x":136.3,"y":1.008},{"k":"GC","x":136.49,"y":1.027},{"k":"GC","x":136.65,"y":1.006},{"k":"GC","x":136.85,"y":1.005},{"k":"GC","x":137.05,"y":1.04},{"k":"GC","x":137.15,"y":1.11},{"k":"GC","x":137.23,"y":1.125},{"k":"GC","x":137.32,"y":1.09},{"k":"GC","x":137.42,"y":1.02},{"k":"GC","x":137.6,"y":1.005},{"k":"GC","x":137.9,"y":1.000},{"k":"GC","x":138.2,"y":1.002},{"k":"GC","x":138.38,"y":1.020},{"k":"GC","x":138.48,"y":1.039},{"k":"GC","x":138.58,"y":1.020},{"k":"GC","x":138.75,"y":1.010},{"k":"GC","x":139.0,"y":0.992},{"k":"GC","x":139.3,"y":0.998},{"k":"GC","x":139.6,"y":1.002},{"k":"GC","x":139.9,"y":1.004},{"k":"GC","x":140.2,"y":1.008},{"k":"GC","x":140.5,"y":1.004},{"k":"GC","x":140.8,"y":0.998},{"k":"GC","x":141.1,"y":0.996},{"k":"GC","x":141.4,"y":0.992},{"k":"GC","x":141.7,"y":0.998},{"k":"GC","x":142.0,"y":0.999},{"k":"GC","x":142.3,"y":1.002},{"k":"GC","x":142.6,"y":1.003},{"k":"GC","x":142.9,"y":1.000},{"k":"GC","x":143.2,"y":1.001},{"k":"GC","x":143.5,"y":0.996},{"k":"GC","x":143.8,"y":0.999},{"k":"GC","x":144.05,"y":0.987},{"k":"GC","x":144.2,"y":0.992},{"k":"GC","x":144.4,"y":1.005},{"k":"GC","x":144.55,"y":1.03},{"k":"GC","x":144.65,"y":1.15},{"k":"GC","x":144.77,"y":1.225},{"k":"GC","x":144.85,"y":1.20},{"k":"GC","x":144.92,"y":1.05},{"k":"GC","x":145.05,"y":1.002},{"k":"GC","x":145.2,"y":1.005},{"k":"GC","x":145.3,"y":1.03},{"k":"GC","x":145.38,"y":2.0},{"k":"GC","x":145.63,"y":2.0},{"k":"GC","x":145.7,"y":1.10},{"k":"GC","x":145.8,"y":1.03},{"k":"GC","x":146.0,"y":1.016},{"k":"GC","x":146.15,"y":1.010},{"k":"GC","x":146.4,"y":1.002},{"k":"GC","x":146.7,"y":1.001},{"k":"GC","x":147.0,"y":1.000},{"k":"GC","x":147.3,"y":1.002},{"k":"GC","x":147.6,"y":0.999},{"k":"GC","x":147.9,"y":1.002},{"k":"GC","x":148.15,"y":1.000},{"k":"GC","x":148.27,"y":1.005},{"k":"GC","x":148.45,"y":1.000},{"k":"GC","x":148.65,"y":0.998},{"k":"GC","x":148.8,"y":0.985},{"k":"GC","x":148.95,"y":0.95},{"k":"GC","x":149.02,"y":0.84},{"k":"GC","x":149.1,"y":0.842},{"k":"GC","x":149.15,"y":0.94},{"k":"GC","x":149.22,"y":0.942},{"k":"GC","x":149.28,"y":0.90},{"k":"GC","x":149.32,"y":0.843},{"k":"GC","x":149.38,"y":0.845},{"k":"GC","x":149.45,"y":0.97},{"k":"GC","x":149.5,"y":1.000},{"k":"GC","x":149.7,"y":1.002},{"k":"GC","x":150.0,"y":1.000},
{"k":"PDR","x":115.0,"y":0.850},{"k":"PDR","x":115.4,"y":0.851},{"k":"PDR","x":115.8,"y":0.853},{"k":"PDR","x":116.0,"y":0.856},{"k":"PDR","x":116.2,"y":0.852},{"k":"PDR","x":116.6,"y":0.850},{"k":"PDR","x":117.0,"y":0.851},{"k":"PDR","x":117.4,"y":0.850},{"k":"PDR","x":117.8,"y":0.852},{"k":"PDR","x":118.2,"y":0.851},{"k":"PDR","x":118.5,"y":0.854},{"k":"PDR","x":118.6,"y":0.858},{"k":"PDR","x":118.75,"y":0.852},{"k":"PDR","x":119.0,"y":0.856},{"k":"PDR","x":119.3,"y":0.870},{"k":"PDR","x":119.4,"y":0.865},{"k":"PDR","x":119.5,"y":0.873},{"k":"PDR","x":119.6,"y":0.855},{"k":"PDR","x":119.75,"y":0.852},{"k":"PDR","x":119.86,"y":0.866},{"k":"PDR","x":119.97,"y":0.852},{"k":"PDR","x":120.2,"y":0.850},{"k":"PDR","x":120.5,"y":0.854},{"k":"PDR","x":120.8,"y":0.851},{"k":"PDR","x":121.2,"y":0.850},{"k":"PDR","x":121.5,"y":0.851},{"k":"PDR","x":121.7,"y":0.86},{"k":"PDR","x":121.8,"y":0.885},{"k":"PDR","x":121.88,"y":0.90},{"k":"PDR","x":121.96,"y":0.885},{"k":"PDR","x":122.08,"y":0.856},{"k":"PDR","x":122.3,"y":0.851},{"k":"PDR","x":122.6,"y":0.850},{"k":"PDR","x":122.9,"y":0.854},{"k":"PDR","x":123.2,"y":0.850},{"k":"PDR","x":123.6,"y":0.851},{"k":"PDR","x":123.9,"y":0.850},{"k":"PDR","x":124.08,"y":0.858},{"k":"PDR","x":124.19,"y":0.875},{"k":"PDR","x":124.3,"y":0.855},{"k":"PDR","x":124.5,"y":0.850},{"k":"PDR","x":124.9,"y":0.851},{"k":"PDR","x":125.3,"y":0.850},{"k":"PDR","x":125.7,"y":0.852},{"k":"PDR","x":126.1,"y":0.850},{"k":"PDR","x":126.5,"y":0.851},{"k":"PDR","x":126.9,"y":0.849},{"k":"PDR","x":127.3,"y":0.851},{"k":"PDR","x":127.7,"y":0.850},{"k":"PDR","x":128.1,"y":0.852},{"k":"PDR","x":128.5,"y":0.850},{"k":"PDR","x":128.9,"y":0.851},{"k":"PDR","x":129.3,"y":0.850},{"k":"PDR","x":129.7,"y":0.851},{"k":"PDR","x":130.1,"y":0.854},{"k":"PDR","x":130.28,"y":0.88},{"k":"PDR","x":130.39,"y":0.912},{"k":"PDR","x":130.5,"y":0.875},{"k":"PDR","x":130.65,"y":0.853},{"k":"PDR","x":130.9,"y":0.850},{"k":"PDR","x":131.3,"y":0.851},{"k":"PDR","x":131.7,"y":0.850},{"k":"PDR","x":132.1,"y":0.851},{"k":"PDR","x":132.5,"y":0.852},{"k":"PDR","x":132.9,"y":0.850},{"k":"PDR","x":133.3,"y":0.851},{"k":"PDR","x":133.7,"y":0.850},{"k":"PDR","x":134.1,"y":0.851},{"k":"PDR","x":134.5,"y":0.850},{"k":"PDR","x":134.9,"y":0.852},{"k":"PDR","x":135.3,"y":0.851},{"k":"PDR","x":135.7,"y":0.850},{"k":"PDR","x":136.1,"y":0.851},{"k":"PDR","x":136.5,"y":0.855},{"k":"PDR","x":136.8,"y":0.852},{"k":"PDR","x":137.0,"y":0.86},{"k":"PDR","x":137.12,"y":0.92},{"k":"PDR","x":137.23,"y":0.979},{"k":"PDR","x":137.34,"y":0.92},{"k":"PDR","x":137.45,"y":0.86},{"k":"PDR","x":137.7,"y":0.852},{"k":"PDR","x":138.0,"y":0.851},{"k":"PDR","x":138.5,"y":0.850},{"k":"PDR","x":139.0,"y":0.853},{"k":"PDR","x":139.4,"y":0.857},{"k":"PDR","x":139.8,"y":0.852},{"k":"PDR","x":140.2,"y":0.851},{"k":"PDR","x":140.6,"y":0.850},{"k":"PDR","x":141.0,"y":0.852},{"k":"PDR","x":141.4,"y":0.854},{"k":"PDR","x":141.8,"y":0.851},{"k":"PDR","x":142.2,"y":0.850},{"k":"PDR","x":142.6,"y":0.851},{"k":"PDR","x":143.0,"y":0.850},{"k":"PDR","x":143.4,"y":0.851},{"k":"PDR","x":143.8,"y":0.850},{"k":"PDR","x":144.2,"y":0.851},{"k":"PDR","x":144.45,"y":0.855},{"k":"PDR","x":144.6,"y":0.90},{"k":"PDR","x":144.7,"y":1.04},{"k":"PDR","x":144.79,"y":1.087},{"k":"PDR","x":144.88,"y":1.02},{"k":"PDR","x":144.97,"y":0.88},{"k":"PDR","x":145.05,"y":0.852},{"k":"PDR","x":145.15,"y":0.86},{"k":"PDR","x":145.28,"y":0.95},{"k":"PDR","x":145.38,"y":1.2},{"k":"PDR","x":145.45,"y":2.0},{"k":"PDR","x":145.65,"y":2.0},{"k":"PDR","x":145.72,"y":1.15},{"k":"PDR","x":145.82,"y":0.92},{"k":"PDR","x":145.95,"y":0.862},{"k":"PDR","x":146.2,"y":0.852},{"k":"PDR","x":146.6,"y":0.851},{"k":"PDR","x":147.0,"y":0.850},{"k":"PDR","x":147.4,"y":0.851},{"k":"PDR","x":147.8,"y":0.852},{"k":"PDR","x":148.2,"y":0.856},{"k":"PDR","x":148.6,"y":0.851},{"k":"PDR","x":149.0,"y":0.850},{"k":"PDR","x":149.4,"y":0.852},{"k":"PDR","x":149.8,"y":0.849},{"k":"PDR","x":150.0,"y":0.850}
],
"bl": [
{"x":117.85,"y":1.477,"t":"CO\n22−21","k":"CO"},
{"x":123.41,"y":1.477,"t":"CO\n21−20","k":"CO"},
{"x":129.73,"y":1.477,"t":"CO\n20−19","k":"CO"},
{"x":121.46,"y":1.308,"t":"H₂O 4₃₂−4₂₃","k":"H2O"},
{"x":125.18,"y":1.406,"t":"4₀₄−3₁₃","k":"H2O"},
{"x":126.66,"y":1.246,"t":"H₂O 3₃₁−3₂₂","k":"H2O"},
{"x":132.35,"y":1.402,"t":"4₂₃−4₁₄","k":"H2O"},
{"x":135.00,"y":1.278,"t":"H₂O 5₁₄−5₀₅","k":"H2O"},
{"x":136.45,"y":1.356,"t":"H₂O 3₃₀−3₂₁","k":"H2O"},
{"x":137.13,"y":1.418,"t":"19−18","k":"CO"},
{"x":138.34,"y":1.402,"t":"3₁₃−2₀₂","k":"H2O"},
{"x":144.08,"y":1.402,"t":"4₁₃−3₂₂","k":"H2O"},
{"x":144.84,"y":1.418,"t":"18−17","k":"CO"},
{"x":146.96,"y":1.228,"t":"H₂O 4₃₁−4₂₂","k":"H2O"},
{"x":143.35,"y":1.206,"t":"¹³CO","k":"13CO"},
{"x":124.80,"y":1.032,"t":"NH₃","k":"NH3"},
{"x":127.05,"y":1.032,"t":"NH₃","k":"NH3"},
{"x":119.31,"y":1.422,"t":"OH","k":"OH"},
{"x":119.48,"y":1.042,"t":"CH⁺","k":"CH+"},
{"x":120.10,"y":1.038,"t":"3−2","k":"CH+"},
{"x":127.90,"y":1.018,"t":"H₃O⁺","k":"H3O+"},
{"x":143.25,"y":1.022,"t":"H₂O⁺","k":"H2O+"},
{"x":143.77,"y":1.022,"t":"H₂O⁺","k":"H2O+"},
{"x":149.17,"y":1.042,"t":"CH","k":"CH"},
{"x":121.88,"y":0.906,"t":"[NII]","k":"NII"},
{"x":145.52,"y":1.442,"t":"[OI]","k":"OI"},
{"x":114.93,"y":1.196,"t":"Shock","k":"Shock"},
{"x":114.93,"y":1.04,"t":"GC","k":"GC"},
{"x":114.93,"y":0.896,"t":"PDR","k":"PDR"},
{"x":153.16,"y":1.144,"t":"F/F","k":"F"},
{"x":152.67,"y":1.076,"t":"c","k":"Fc"}
],
"ar": [{"x":119.84,"y":1.026,"y2":0.878,"k":"CH+"}],
"ah": [{"x":119.84,"y":0.874,"k":"CH+"}]
},
"vconcat": [
{
"width": 1138, "height": 300,
"encoding": {
  "x": {"field": "x", "type": "quantitative", "scale": {"domain": [150, 188], "nice": false, "zero": false},
   "axis": {"values": [150,151,152,153,154,155,156,157,158,159,160,161,162,163,164,165,166,167,168,169,170,171,172,173,174,175,176,177,178,179,180,181,182,183,184,185,186,187,188],
    "title": null, "grid": false, "labelFlush": false, "labelOverlap": false,
    "tickSize": {"condition": {"test": "datum.value % 5 === 0", "value": -15}, "value": -8},
    "labelExpr": "datum.value % 5 === 0 ? datum.label : ''",
    "labelFont": "Liberation Serif", "labelFontSize": 29, "labelColor": "#333", "labelPadding": 26,
    "domainColor": "#222", "domainWidth": 1.5, "tickColor": "#222", "tickWidth": 1.3}},
  "y": {"field": "y", "type": "quantitative", "scale": {"domain": [0.6, 2.0], "nice": false, "zero": false},
   "axis": {"orient": "right", "values": [0.6,0.65,0.7,0.75,0.8,0.85,0.9,0.95,1,1.05,1.1,1.15,1.2,1.25,1.3,1.35,1.4,1.45,1.5,1.55,1.6,1.65,1.7,1.75,1.8,1.85,1.9,1.95,2],
    "title": null, "grid": false, "labelFlush": false, "labelOverlap": false,
    "tickSize": {"condition": {"test": "abs(datum.value*2-round(datum.value*2))<0.001", "value": -12}, "value": -6},
    "labelExpr": "abs(datum.value*2-round(datum.value*2))<0.001 ? format(datum.value,'~g') : ''",
    "labelFont": "Liberation Serif", "labelFontSize": 29, "labelColor": "#333", "labelPadding": 27,
    "domainColor": "#222", "domainWidth": 1.5, "tickColor": "#222", "tickWidth": 1.3}},
  "color": {"field": "k", "type": "nominal", "legend": null,
   "scale": {"domain": ["Shock","GC","PDR","CO","H2O","13CO","CII","OH","H3O+","H2O+","NH3","NII","OI","CH","CH+","F","Fc"],
             "range": ["#ff1010","#000000","#1414ff","#111111","#1414ff","#949494","#33ee33","#11eeff","#ff1aff","#ff1010","#aaaaaa","#33ee33","#33ee33","#ff1aff","#ff1aff","#111111","#111111"]}}
},
"layer": [
{"data": {"name": "ts"}, "mark": {"type": "line", "clip": true, "strokeWidth": 1.7}},
{"data": {"name": "tl"}, "transform": [{"filter": "indexof(datum.t,'\\n')>=0"}],
 "mark": {"type": "text", "angle": 270, "align": "center", "baseline": "middle", "lineBreak": "\n", "lineHeight": 21, "font": "Liberation Sans, DejaVu Sans", "fontWeight": "bold", "fontSize": 22},
 "encoding": {"text": {"field": "t"}}},
{"data": {"name": "tl"}, "transform": [{"filter": "(datum.k==='H2O'||datum.k==='CO') && indexof(datum.t,'\\n')<0"}],
 "mark": {"type": "text", "angle": 270, "align": "left", "baseline": "middle", "font": "Liberation Sans, DejaVu Sans", "fontWeight": "bold", "fontSize": 21},
 "encoding": {"text": {"field": "t"}}},
{"data": {"name": "tl"}, "transform": [{"filter": "datum.k==='13CO'||datum.k==='NH3'"}],
 "mark": {"type": "text", "angle": 270, "align": "left", "baseline": "middle", "font": "Liberation Sans, DejaVu Sans", "fontSize": 20},
 "encoding": {"text": {"field": "t"}}},
{"data": {"name": "tl"}, "transform": [{"filter": "datum.k==='CII'||datum.k==='NII'||datum.k==='OI'"}],
 "mark": {"type": "text", "angle": 270, "align": "left", "baseline": "middle", "font": "Liberation Serif, DejaVu Serif", "fontSize": 22},
 "encoding": {"text": {"field": "t"}}},
{"data": {"name": "tl"}, "transform": [{"filter": "datum.k==='OH'||datum.k==='H3O+'||datum.k==='H2O+'||datum.k==='CH'||datum.k==='CH+'"}],
 "mark": {"type": "text", "angle": 270, "align": "left", "baseline": "middle", "font": "Liberation Serif, DejaVu Serif", "fontWeight": "bold", "fontSize": 21},
 "encoding": {"text": {"field": "t"}}},
{"data": {"name": "tl"}, "transform": [{"filter": "datum.k==='Shock'||datum.k==='GC'||datum.k==='PDR'"}],
 "mark": {"type": "text", "align": "right", "baseline": "middle", "font": "Liberation Serif", "fontSize": 30},
 "encoding": {"text": {"field": "t"}}},
{"data": {"name": "tl"}, "transform": [{"filter": "datum.k==='F'"}],
 "mark": {"type": "text", "angle": 90, "align": "center", "baseline": "middle", "font": "Liberation Serif", "fontSize": 36},
 "encoding": {"text": {"field": "t"}}},
{"data": {"name": "tl"}, "transform": [{"filter": "datum.k==='Fc'"}],
 "mark": {"type": "text", "angle": 90, "align": "center", "baseline": "middle", "font": "Liberation Serif", "fontSize": 26},
 "encoding": {"text": {"field": "t"}}}
]
},
{
"width": 1138, "height": 300,
"encoding": {
  "x": {"field": "x", "type": "quantitative", "scale": {"domain": [115, 150], "nice": false, "zero": false},
   "axis": {"values": [115,116,117,118,119,120,121,122,123,124,125,126,127,128,129,130,131,132,133,134,135,136,137,138,139,140,141,142,143,144,145,146,147,148,149,150],
    "title": "λ (μm)", "titleFont": "Liberation Serif", "titleFontSize": 40, "titleFontWeight": "normal", "titleColor": "#111", "titleX": 538, "titlePadding": 8,
    "grid": false, "labelFlush": false, "labelOverlap": false,
    "tickSize": {"condition": {"test": "datum.value % 5 === 0", "value": -15}, "value": -8},
    "labelExpr": "datum.value % 5 === 0 ? datum.label : ''",
    "labelFont": "Liberation Serif", "labelFontSize": 29, "labelColor": "#333", "labelPadding": 26,
    "domainColor": "#222", "domainWidth": 1.5, "tickColor": "#222", "tickWidth": 1.3}},
  "y": {"field": "y", "type": "quantitative", "scale": {"domain": [0.8, 1.4], "nice": false, "zero": false},
   "axis": {"orient": "right", "values": [0.8,0.84,0.88,0.92,0.96,1,1.04,1.08,1.12,1.16,1.2,1.24,1.28,1.32,1.36,1.4],
    "title": null, "grid": false, "labelFlush": false, "labelOverlap": false,
    "tickSize": {"condition": {"test": "abs(datum.value*5-round(datum.value*5))<0.001", "value": -12}, "value": -6},
    "labelExpr": "datum.value > 0.9 && abs(datum.value*5-round(datum.value*5))<0.001 ? format(datum.value,'~g') : ''",
    "labelFont": "Liberation Serif", "labelFontSize": 29, "labelColor": "#333", "labelPadding": 27,
    "domainColor": "#222", "domainWidth": 1.5, "tickColor": "#222", "tickWidth": 1.3}},
  "color": {"field": "k", "type": "nominal", "legend": null,
   "scale": {"domain": ["Shock","GC","PDR","CO","H2O","13CO","CII","OH","H3O+","H2O+","NH3","NII","OI","CH","CH+","F","Fc"],
             "range": ["#ff1010","#000000","#1414ff","#111111","#1414ff","#949494","#33ee33","#11eeff","#ff1aff","#ff1010","#aaaaaa","#33ee33","#33ee33","#ff1aff","#ff1aff","#111111","#111111"]}}
},
"layer": [
{"data": {"name": "bs"}, "mark": {"type": "line", "clip": true, "strokeWidth": 1.7}},
{"data": {"name": "ar"}, "mark": {"type": "rule", "strokeWidth": 1.6}, "encoding": {"y2": {"field": "y2"}}},
{"data": {"name": "ah"}, "mark": {"type": "point", "shape": "triangle-down", "filled": true, "size": 50, "opacity": 1, "yOffset": -3}},
{"data": {"name": "bl"}, "transform": [{"filter": "indexof(datum.t,'\\n')>=0"}],
 "mark": {"type": "text", "angle": 270, "align": "center", "baseline": "middle", "lineBreak": "\n", "lineHeight": 21, "font": "Liberation Sans, DejaVu Sans", "fontWeight": "bold", "fontSize": 22},
 "encoding": {"text": {"field": "t"}}},
{"data": {"name": "bl"}, "transform": [{"filter": "(datum.k==='H2O'||datum.k==='CO') && indexof(datum.t,'\\n')<0"}],
 "mark": {"type": "text", "angle": 270, "align": "left", "baseline": "middle", "font": "Liberation Sans, DejaVu Sans", "fontWeight": "bold", "fontSize": 21},
 "encoding": {"text": {"field": "t"}}},
{"data": {"name": "bl"}, "transform": [{"filter": "datum.k==='13CO'||datum.k==='NH3'"}],
 "mark": {"type": "text", "angle": 270, "align": "left", "baseline": "middle", "font": "Liberation Sans, DejaVu Sans", "fontSize": 20},
 "encoding": {"text": {"field": "t"}}},
{"data": {"name": "bl"}, "transform": [{"filter": "datum.k==='CII'||datum.k==='NII'||datum.k==='OI'"}],
 "mark": {"type": "text", "angle": 270, "align": "left", "baseline": "middle", "font": "Liberation Serif, DejaVu Serif", "fontSize": 22},
 "encoding": {"text": {"field": "t"}}},
{"data": {"name": "bl"}, "transform": [{"filter": "datum.k==='OH'||datum.k==='H3O+'||datum.k==='H2O+'||datum.k==='CH'||datum.k==='CH+'"}],
 "mark": {"type": "text", "angle": 270, "align": "left", "baseline": "middle", "font": "Liberation Serif, DejaVu Serif", "fontWeight": "bold", "fontSize": 21},
 "encoding": {"text": {"field": "t"}}},
{"data": {"name": "bl"}, "transform": [{"filter": "datum.k==='Shock'||datum.k==='GC'||datum.k==='PDR'"}],
 "mark": {"type": "text", "align": "right", "baseline": "middle", "font": "Liberation Serif", "fontSize": 30},
 "encoding": {"text": {"field": "t"}}},
{"data": {"name": "bl"}, "transform": [{"filter": "datum.k==='F'"}],
 "mark": {"type": "text", "angle": 90, "align": "center", "baseline": "middle", "font": "Liberation Serif", "fontSize": 36},
 "encoding": {"text": {"field": "t"}}},
{"data": {"name": "bl"}, "transform": [{"filter": "datum.k==='Fc'"}],
 "mark": {"type": "text", "angle": 90, "align": "center", "baseline": "middle", "font": "Liberation Serif", "fontSize": 26},
 "encoding": {"text": {"field": "t"}}}
]
}
]
}
